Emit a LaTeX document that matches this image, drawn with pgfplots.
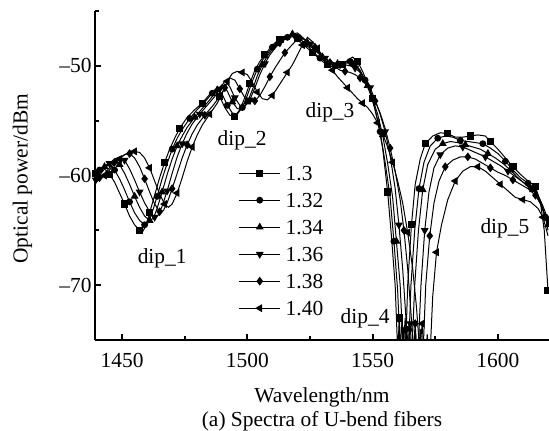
\documentclass[border=0pt]{standalone}
\usepackage{fontspec}
\setmainfont{Liberation Serif}
\usepackage{pgfplots}
\pgfplotsset{compat=1.18}
\begin{document}
\begin{tikzpicture}
\begin{axis}[
 scale only axis, width=454bp, height=329bp,
 xmin=1439.2, xmax=1620.4, ymin=-75, ymax=-45,
 axis x line=bottom, axis y line=left,
 axis line style={-, line width=1.8bp},
 xtick={1450,1500,1550,1600}, minor xtick={1475,1525,1575},
 ytick={-70,-60,-50}, minor ytick={-65,-55,-45},
 yticklabels={\textendash70,\textendash60,\textendash50},
 tick align=inside,
 major tick length=6bp, minor tick length=4bp,
 major tick style={black, line width=1.8bp},
 minor tick style={black, line width=1.8bp},
 /pgf/number format/assume math mode=true,
 /pgf/number format/set thousands separator={},
 ticklabel style={font=\fontsize{21.5}{25}\selectfont},
 xticklabel style={anchor=north, yshift=-10bp},
 yticklabel style={anchor=east},
 label style={font=\fontsize{21.5}{25}\selectfont},
 xlabel={Wavelength/nm}, ylabel={Optical power/dBm},
 xlabel style={at={(axis description cs:0.5,0)}, anchor=center, yshift=-57bp},
 ylabel style={at={(axis description cs:-0.16,0.49)}, anchor=center},
 every axis plot/.append style={black, line width=1bp, mark repeat=3, mark options={solid, fill=black}},
 legend style={draw=none, fill=none, at={(axis cs:1495.3,-58.95)}, anchor=north west,
   font=\fontsize{21.5}{25}\selectfont,
   nodes={inner sep=0pt, text height=14bp, text depth=0bp},
   row sep=13bp, column sep=5bp},
 legend image code/.code={\draw[#1, mark repeat=2, mark phase=2] plot coordinates {(0bp,0bp) (20.5bp,0bp) (41bp,0bp)};},
 legend cell align=left,
]
% 1.3
\addplot[mark=square*, mark size=3.1bp, mark phase=1] coordinates {
(1439.5,-59.8) (1441,-59.3) (1443,-59.4) (1445,-59.9) (1447,-60.6) (1449,-61.6) (1451,-62.6) (1453,-63.7) (1455,-64.5) (1457,-65.0) (1458,-65.2) (1459.5,-64.6) (1461,-63.4) (1463,-61.8) (1465,-60.2) (1467,-58.8) (1469,-57.6) (1471,-56.6) (1473,-55.7) (1476,-54.7) (1479,-54.0) (1482,-53.4) (1485,-52.6) (1487,-52.2) (1489,-52.8) (1491,-53.8) (1493,-54.5) (1495,-54.6) (1497,-54.0) (1499,-52.9) (1501,-51.6) (1503,-50.4) (1505,-49.6) (1507,-49.0) (1509,-48.4) (1511,-47.9) (1513,-47.6) (1515,-47.3) (1518,-47.2) (1520,-47.5) (1522,-48.0) (1524,-48.4) (1526,-48.8) (1528,-49.2) (1530,-49.6) (1532,-49.9) (1534,-50.1) (1536,-50.2) (1538,-49.9) (1540,-49.5) (1542,-49.2) (1544,-49.6) (1546,-50.5) (1548,-51.6) (1550,-53.0) (1552,-55.0) (1554,-57.5) (1556,-61.5) (1557.5,-65.5) (1559,-70) (1560,-76) (1560.7,-73) (1561.5,-78) (1562.3,-74) (1563,-77) (1564,-70) (1565.5,-64.5) (1567,-60.8) (1569,-58.5) (1571,-57.1) (1574,-56.4) (1577,-56.1) (1580,-56.2) (1583,-56.5) (1586,-56.5) (1589,-56.4) (1592,-56.3) (1595,-56.4) (1597,-56.9) (1600,-57.6) (1603,-58.4) (1606,-59.2) (1609,-59.9) (1612,-60.5) (1615,-61.0) (1617,-62.5) (1618.5,-65) (1620,-70.5)
};
\addlegendentry{1.3}
% 1.32
\addplot[mark=*, mark size=2.9bp, mark phase=2] coordinates {
(1439.5,-60.0) (1441,-59.5) (1443,-59.1) (1445,-59.0) (1447,-59.5) (1449,-60.3) (1451,-61.3) (1453,-62.4) (1455,-63.4) (1457,-64.1) (1459,-64.5) (1460.5,-64.3) (1462,-63.4) (1464,-61.9) (1466,-60.3) (1468,-58.9) (1470,-57.6) (1472,-56.6) (1474,-55.8) (1477,-54.8) (1480,-54.0) (1483,-53.3) (1486,-52.5) (1488,-52.0) (1490,-52.6) (1492,-53.6) (1494,-54.3) (1496,-54.4) (1498,-53.8) (1500,-52.7) (1502,-51.4) (1504,-50.3) (1506,-49.5) (1508,-48.9) (1510,-48.3) (1512,-47.9) (1514,-47.6) (1516,-47.4) (1519,-47.2) (1521,-47.5) (1523,-48.0) (1525,-48.4) (1527,-48.9) (1529,-49.3) (1531,-49.6) (1533,-49.8) (1535,-50.0) (1537,-50.0) (1539,-49.8) (1541,-49.6) (1543,-49.8) (1545,-50.4) (1547,-51.3) (1549,-52.5) (1551,-54.0) (1553,-56.0) (1555,-58.8) (1557,-62.0) (1558.5,-66) (1560,-70.5) (1561,-76) (1561.8,-73) (1562.6,-78) (1563.4,-74) (1564.2,-77) (1565.3,-70) (1566.8,-65) (1568.5,-61.2) (1570.5,-58.8) (1573,-57.3) (1576,-56.6) (1579,-56.4) (1582,-56.5) (1585,-56.8) (1588,-56.9) (1591,-57.0) (1594,-57.1) (1597,-57.5) (1600,-58.0) (1603,-58.7) (1606,-59.5) (1609,-60.2) (1612,-60.7) (1615,-61.3) (1617,-62.3) (1619,-63.8) (1620,-65)
};
\addlegendentry{1.32}
% 1.34
\addplot[mark=triangle*, mark size=3.6bp, mark phase=3] coordinates {
(1439.5,-60.2) (1441,-59.8) (1443,-59.2) (1445,-58.8) (1447,-58.6) (1449,-59.0) (1451,-59.8) (1453,-60.8) (1455,-61.9) (1457,-62.9) (1459,-63.7) (1461,-64.1) (1462.5,-63.9) (1464,-63.0) (1466,-61.5) (1468,-59.9) (1470,-58.5) (1472,-57.3) (1474,-56.4) (1476,-55.6) (1479,-54.7) (1482,-53.9) (1485,-53.1) (1488,-52.2) (1490,-51.7) (1492,-52.3) (1494,-53.3) (1496,-53.9) (1498,-54.0) (1500,-53.3) (1502,-52.2) (1504,-50.9) (1506,-49.9) (1508,-49.1) (1510,-48.5) (1512,-48.0) (1514,-47.6) (1516,-47.3) (1518,-47.1) (1520,-47.0) (1522,-47.4) (1524,-47.9) (1526,-48.4) (1528,-48.8) (1530,-49.2) (1532,-49.5) (1534,-49.7) (1536,-49.8) (1538,-49.7) (1540,-49.6) (1542,-49.8) (1544,-50.2) (1546,-50.9) (1548,-51.8) (1550,-53.0) (1552,-54.4) (1554,-56.3) (1556,-58.9) (1558,-62.0) (1559.5,-66) (1561,-70) (1562.2,-76) (1563,-73) (1563.8,-78) (1564.6,-74) (1565.5,-77) (1566.8,-70) (1568.3,-65) (1570,-61.3) (1572,-59.0) (1575,-57.6) (1578,-57.1) (1581,-56.9) (1584,-57.0) (1587,-57.2) (1590,-57.4) (1593,-57.6) (1596,-58.0) (1599,-58.4) (1602,-58.9) (1605,-59.5) (1608,-60.2) (1611,-60.8) (1614,-61.3) (1616,-62.0) (1618,-63.2) (1620,-64.5)
};
\addlegendentry{1.34}
% 1.36
\addplot[mark=triangle*, mark options={rotate=180}, mark size=3.6bp, mark phase=1] coordinates {
(1439.5,-60.4) (1441,-60.0) (1443,-59.4) (1445,-58.9) (1447,-58.5) (1449,-58.3) (1451,-58.6) (1453,-59.4) (1455,-60.4) (1457,-61.5) (1459,-62.5) (1461,-63.3) (1463,-63.8) (1464.5,-63.6) (1466,-62.8) (1468,-61.4) (1470,-59.8) (1472,-58.3) (1474,-57.1) (1476,-56.1) (1478,-55.3) (1481,-54.4) (1484,-53.6) (1487,-52.8) (1489,-52.1) (1491,-51.4) (1493,-51.9) (1495,-52.9) (1497,-53.6) (1499,-53.7) (1501,-53.1) (1503,-52.0) (1505,-50.8) (1507,-49.8) (1509,-49.0) (1511,-48.4) (1513,-47.9) (1515,-47.6) (1517,-47.4) (1519,-47.3) (1521,-47.3) (1523,-47.6) (1525,-48.0) (1527,-48.5) (1529,-48.9) (1531,-49.3) (1533,-49.6) (1535,-49.8) (1537,-49.9) (1539,-49.9) (1541,-50.0) (1543,-50.2) (1545,-50.6) (1547,-51.2) (1549,-52.0) (1551,-53.1) (1553,-54.4) (1555,-56.0) (1557,-58.2) (1559,-61.2) (1560.5,-64.5) (1562,-68.5) (1563.3,-73) (1564.3,-76) (1565,-73.5) (1566,-78) (1567,-74) (1568,-77) (1569.3,-70) (1570.8,-65) (1572.5,-61.5) (1574.5,-59.3) (1577,-58.1) (1580,-57.5) (1583,-57.3) (1586,-57.4) (1589,-57.7) (1592,-58.0) (1595,-58.3) (1598,-58.7) (1601,-59.1) (1604,-59.6) (1607,-60.1) (1610,-60.6) (1613,-61.1) (1616,-61.8) (1618,-62.8) (1620,-64.0)
};
\addlegendentry{1.36}
% 1.38
\addplot[mark=diamond*, mark size=3.6bp, mark phase=2] coordinates {
(1439.5,-60.5) (1441,-60.2) (1443,-59.8) (1445,-59.3) (1447,-58.8) (1449,-58.4) (1451,-58.1) (1453,-58.0) (1455,-58.4) (1457,-59.2) (1459,-60.3) (1461,-61.5) (1463,-62.6) (1465,-63.3) (1466.5,-63.2) (1468,-62.5) (1470,-61.2) (1472,-59.8) (1474,-58.4) (1476,-57.2) (1478,-56.2) (1480,-55.4) (1483,-54.5) (1486,-53.7) (1489,-52.8) (1491,-52.0) (1493,-51.1) (1495,-51.3) (1497,-52.1) (1499,-52.9) (1501,-53.3) (1503,-53.2) (1505,-52.7) (1507,-51.9) (1509,-51.0) (1511,-50.2) (1513,-49.5) (1515,-48.8) (1517,-48.3) (1519,-47.8) (1521,-47.5) (1523,-47.6) (1525,-47.9) (1527,-48.3) (1529,-48.8) (1531,-49.3) (1533,-49.7) (1535,-50.1) (1537,-50.4) (1539,-50.5) (1541,-50.6) (1543,-50.8) (1545,-51.1) (1547,-51.6) (1549,-52.3) (1551,-53.2) (1553,-54.3) (1555,-55.7) (1557,-57.5) (1559,-59.6) (1561,-62.2) (1562.5,-65) (1564,-68.5) (1565.3,-72.5) (1566.3,-76) (1567,-73.5) (1568,-78) (1569,-74) (1570,-77) (1571.2,-70) (1572.8,-65.5) (1574.5,-62.5) (1576.5,-60.5) (1579,-59.2) (1582,-58.6) (1585,-58.3) (1588,-58.3) (1591,-58.5) (1594,-58.9) (1597,-59.3) (1600,-59.7) (1603,-60.0) (1606,-60.4) (1609,-60.8) (1612,-61.2) (1615,-61.8) (1617.5,-62.8) (1620,-64.5)
};
\addlegendentry{1.38}
% 1.40
\addplot[mark=triangle*, mark options={rotate=90}, mark size=3.6bp, mark phase=3] coordinates {
(1439.5,-60.6) (1441,-60.4) (1443,-60.0) (1445,-59.5) (1447,-59.0) (1449,-58.5) (1451,-58.1) (1453,-57.9) (1455,-57.8) (1457,-57.9) (1459,-58.4) (1461,-59.3) (1463,-60.5) (1465,-61.7) (1467,-62.6) (1468.5,-62.9) (1470,-62.6) (1472,-61.6) (1474,-60.2) (1476,-58.7) (1478,-57.4) (1480,-56.3) (1482,-55.4) (1485,-54.4) (1488,-53.4) (1490,-52.5) (1492,-51.4) (1494,-50.7) (1496,-50.5) (1498,-50.6) (1500,-50.8) (1502,-51.5) (1504,-52.4) (1506,-53.0) (1508,-53.1) (1510,-52.7) (1512,-52.0) (1514,-51.3) (1516,-50.6) (1518,-49.9) (1520,-49.0) (1522,-48.1) (1524,-47.4) (1526,-47.8) (1528,-48.4) (1530,-49.1) (1532,-49.8) (1534,-50.4) (1536,-51.0) (1538,-51.5) (1540,-52.0) (1542,-52.5) (1544,-53.0) (1546,-53.4) (1548,-53.8) (1550,-54.4) (1552,-55.2) (1554,-56.2) (1556,-57.4) (1558,-58.8) (1560,-60.5) (1562,-62.5) (1564,-65.2) (1566,-68.5) (1567.5,-72) (1568.8,-76) (1569.8,-73.5) (1570.8,-78) (1571.8,-74.5) (1572.8,-77) (1574,-71) (1575.5,-67) (1577.5,-64.5) (1580,-62.2) (1583,-60.5) (1586,-59.6) (1589,-59.2) (1592,-59.2) (1595,-59.6) (1598,-60.2) (1601,-60.8) (1604,-61.4) (1607,-62.0) (1610,-62.2) (1613,-62.4) (1616,-63.0) (1618,-63.8) (1620,-65.5)
};
\addlegendentry{1.40}
\node[font=\fontsize{21.5}{25}\selectfont] at (axis cs:1466,-67.6) {dip\_1};
\node[font=\fontsize{21.5}{25}\selectfont] at (axis cs:1497.9,-56.75) {dip\_2};
\node[font=\fontsize{21.5}{25}\selectfont] at (axis cs:1533,-54.2) {dip\_3};
\node[font=\fontsize{21.5}{25}\selectfont] at (axis cs:1547,-73) {dip\_4};
\node[font=\fontsize{21.5}{25}\selectfont] at (axis cs:1602.8,-64.8) {dip\_5};
\coordinate (bbsw) at (rel axis cs:0,0);
\coordinate (bbs) at (rel axis cs:0.5,0);
\coordinate (bbne) at (rel axis cs:1,1);
\end{axis}
\node[font=\fontsize{21.5}{25}\selectfont] at ([yshift=-81.5bp]bbs) {(a) Spectra of U-bend fibers};
\pgfresetboundingbox
\path ([xshift=-95bp,yshift=-91bp]bbsw) rectangle ([yshift=11bp]bbne);
\end{tikzpicture}
\end{document}
